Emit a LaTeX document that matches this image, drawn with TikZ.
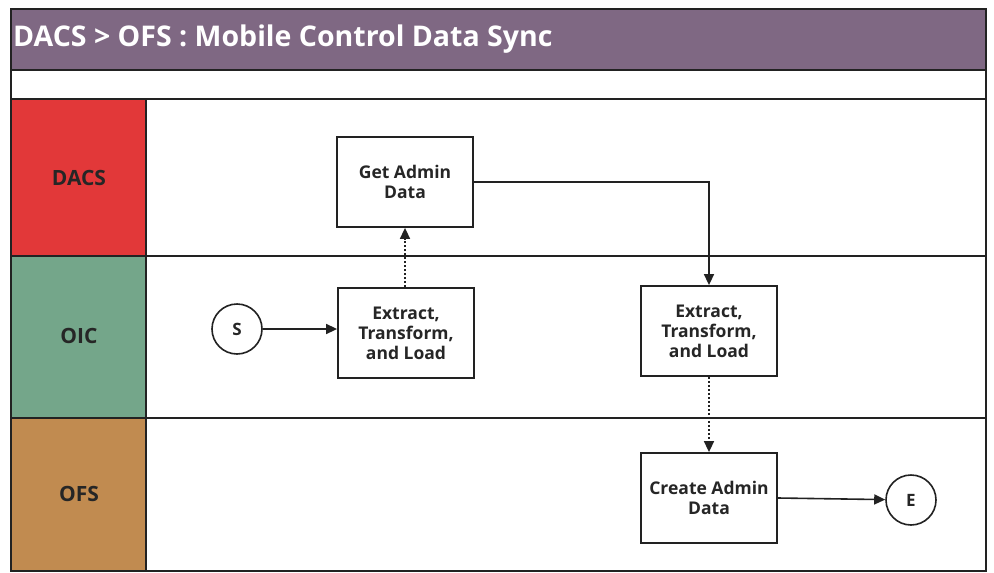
\documentclass[tikz,border=0pt]{standalone}
\usepackage{fontspec}
\setmainfont{Open Sans}
\usetikzlibrary{arrows.meta}
\definecolor{hdr}{HTML}{7F6883}
\definecolor{dacs}{HTML}{E23839}
\definecolor{oic}{HTML}{74A68A}
\definecolor{ofs}{HTML}{C18B50}
\definecolor{ln}{HTML}{222222}
\tikzset{
  frame/.style={draw=ln, line width=1.8pt},
  lanelabel/.style={font=\bfseries\fontsize{21}{24}\selectfont, text=black!85},
  task/.style={draw=ln, line width=1.8pt, fill=white, minimum width=136pt, minimum height=90pt, align=center, inner sep=0pt, font=\bfseries\fontsize{17.5}{20}\selectfont, text=black!85},
  event/.style={draw=ln, line width=1.6pt, fill=white, circle, minimum size=50pt, inner sep=0pt, font=\bfseries\fontsize{17}{20}\selectfont, text=black!85},
  flow/.style={draw=ln, line width=1.6pt, -{Triangle[length=11pt,width=10pt]}},
  msg/.style={flow, dash pattern=on 2pt off 2pt}
}
\begin{document}
\begin{tikzpicture}[x=1pt,y=-1pt]
\useasboundingbox (0,0) rectangle (994,573);
\fill[white] (0,0) rectangle (994,573);
% header
\draw[frame, fill=hdr] (11,9) rectangle (986,70);
\node[anchor=west, text=white, font=\bfseries\fontsize{28.5}{30}\selectfont, inner sep=0pt] (title) at (13,39) {DACS > OFS : Mobile Control Data Sync};
\draw[frame] (11,70) rectangle (986,99);
% lanes
\draw[frame, fill=dacs] (11,99) rectangle (146,256);
\draw[frame, fill=oic] (11,256) rectangle (146,418);
\draw[frame, fill=ofs] (11,418) rectangle (146,571);
\draw[frame] (146,99) rectangle (986,256);
\draw[frame] (146,256) rectangle (986,418);
\draw[frame] (146,418) rectangle (986,571);
\node[lanelabel] (ldacs) at (79,178) {DACS};
\node[lanelabel] (loic) at (79,336) {OIC};
\node[lanelabel] (lofs) at (79,494) {OFS};
% tasks
\node[task] (get) at (405,182) {Get Admin\\Data};
\node[task] (etl1) at (406,333) {Extract,\\Transform,\\and Load};
\node[task] (etl2) at (709,331) {Extract,\\Transform,\\and Load};
\node[task] (create) at (709,498) {Create Admin\\Data};
\node[event] (s) at (237,329) {S};
\node[event] (e) at (911,500) {E};
% connectors
\draw[flow] (s) -- (s -| etl1.west);
\draw[msg] (get.south |- etl1.north) -- (get.south);
\draw[flow] (get.east) -| (etl2.north);
\draw[msg] (etl2.south) -- (create.north);
\draw[flow] (create.east) -- (e);
\end{tikzpicture}
\end{document}
